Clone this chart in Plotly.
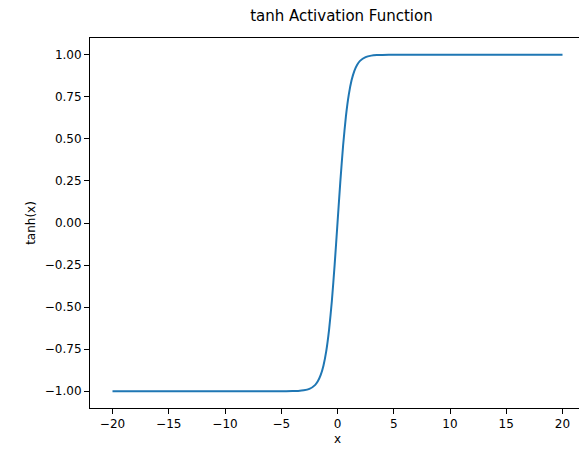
import plotly.graph_objects as go

x_vals = [-20, -10, -5, -4, -3.5, -3, -2.5, -2, -1.75, -1.5, -1.25, -1, -0.75, -0.5, -0.25, 0,
          0.25, 0.5, 0.75, 1, 1.25, 1.5, 1.75, 2, 2.5, 3, 3.5, 4, 5, 10, 20]
y_vals = [-1.0, -1.0, -0.9999, -0.9993, -0.9982, -0.9951, -0.9866, -0.9640, -0.9414, -0.9051, -0.8483,
          -0.7616, -0.6351, -0.4621, -0.2449, 0.0,
          0.2449, 0.4621, 0.6351, 0.7616, 0.8483, 0.9051, 0.9414, 0.9640, 0.9866, 0.9951, 0.9982,
          0.9993, 0.9999, 1.0, 1.0]
x_ticks = [-20, -15, -10, -5, 0, 5, 10, 15, 20]
y_ticks = [-1.0, -0.75, -0.5, -0.25, 0.0, 0.25, 0.5, 0.75, 1.0]

fig = go.Figure(go.Scatter(x=x_vals, y=y_vals, mode="lines", line=dict(color="#1f77b4", width=2, shape="spline", smoothing=0.6)))
axis = dict(showgrid=False, zeroline=False, showline=True, linecolor="black", linewidth=1, mirror=True,
            ticks="outside", ticklen=5, tickcolor="black", tickfont=dict(size=12, color="black"), automargin=False)
fig.update_layout(
    width=587, height=455, plot_bgcolor="white", paper_bgcolor="white",
    font=dict(family="DejaVu Sans", color="black"),
    margin=dict(l=82, r=10, t=30, b=55, autoexpand=False),
    title=dict(text="tanh Activation Function", x=0.568, xanchor="center", y=0.995, yanchor="top",
               font=dict(size=15), automargin=False),
    xaxis=dict(axis, range=[-22, 22], tickvals=x_ticks, ticktext=["\u2212" + str(-v) if v < 0 else str(v) for v in x_ticks],
               title=dict(text="x", font=dict(size=12), standoff=4)),
    yaxis=dict(axis, range=[-1.1, 1.1], tickvals=y_ticks, ticktext=[("\u2212" if v < 0 else "") + f"{abs(v):.2f}" for v in y_ticks],
               title=dict(text="tanh(x)", font=dict(size=12), standoff=6)),
    showlegend=False,
)
fig.write_html("out.html")
